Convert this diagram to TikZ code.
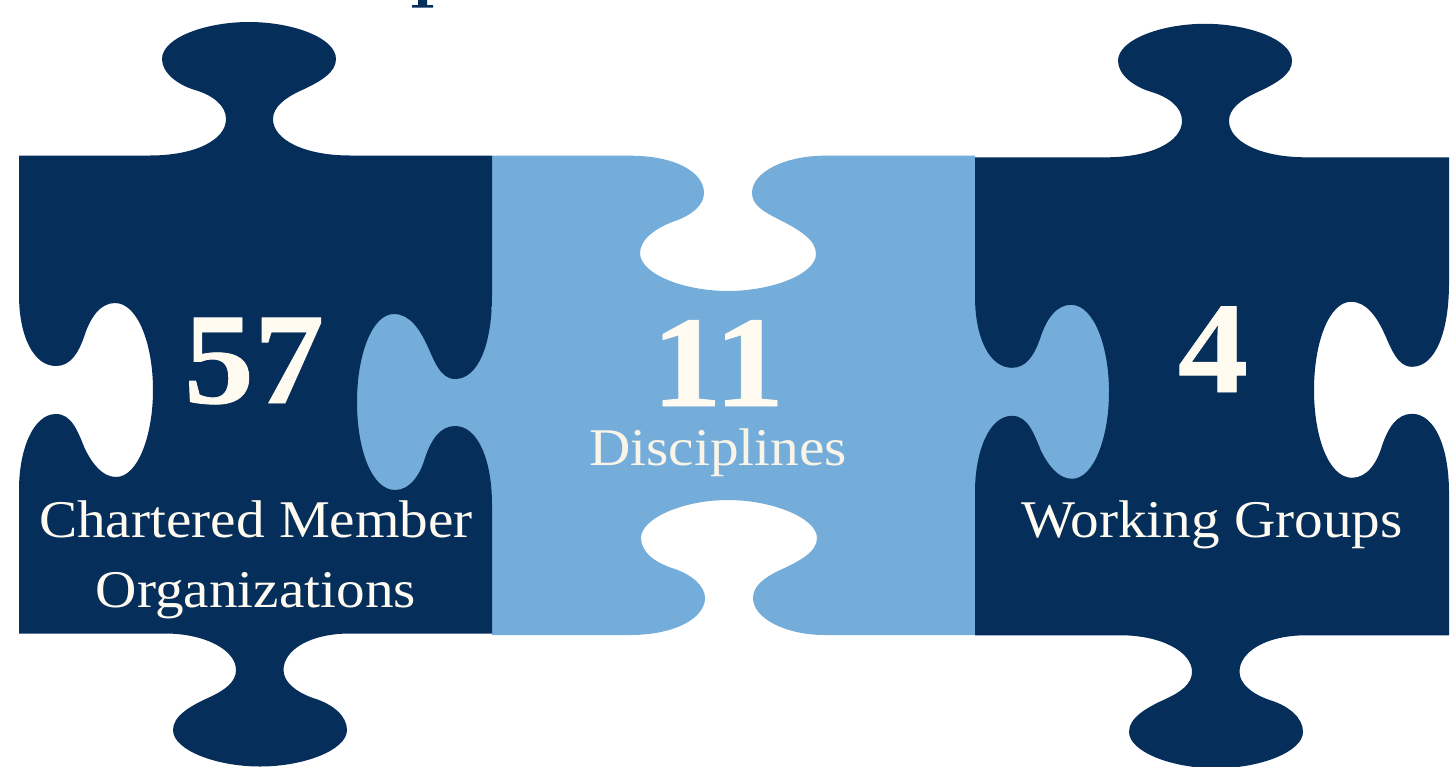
\documentclass[tikz,border=0pt]{standalone}
\usepackage{fontspec}
\setmainfont{Liberation Serif}
\newfontfamily\capfont[FakeStretch=1.08]{Liberation Serif}
\newfontfamily\numfont[FakeStretch=1.08,FakeBold=0.6]{Liberation Serif Bold}
\definecolor{navy}{RGB}{5,46,91}
\definecolor{sky}{RGB}{116,173,218}
\definecolor{cream}{RGB}{255,251,240}
\definecolor{creamdim}{RGB}{248,244,232}
\tikzset{
  bignum/.style={text=cream,font=\fontsize{130}{130}\numfont,anchor=base,inner sep=0pt},
  caption/.style={text=cream,font=\fontsize{53}{53}\capfont,anchor=base,inner sep=0pt},
  darkpiece/.style={fill=navy,draw=none},
  lightpiece/.style={fill=sky,draw=none}
}
% #1 x shift, #2 y shift, #3 right-edge x offset, #4 right-edge y offset
\newcommand{\darkjigsaw}[4]{%
\begin{scope}[shift={(#1,#2)}]
\path[darkpiece] (19,155.5) -- (150,155.5)
 .. controls (195,155.5) and (226,140) .. (226,119)
 .. controls (226,105) and (212,95) .. (195,90)
 .. controls (178,85) and (162,73) .. (162,59)
 .. controls (162,38) and (205,22) .. (249,22)
 .. controls (293,22) and (336,38) .. (336,59)
 .. controls (336,72) and (322,81) .. (300,91)
 .. controls (285,98) and (273,107) .. (273,119)
 .. controls (273,140) and (305,155.5) .. (350,155.5)
 -- ({492+#3},155.5) -- ({492+#3},{295+#4})
 .. controls ({492+#3},{345+#4}) and ({478+#3},{379+#4}) .. ({455+#3},{379+#4})
 .. controls ({440+#3},{379+#4}) and ({434+#3},{360+#4}) .. ({427+#3},{345+#4})
 .. controls ({420+#3},{330+#4}) and ({410+#3},{314+#4}) .. ({394+#3},{314+#4})
 .. controls ({372+#3},{314+#4}) and ({357+#3},{355+#4}) .. ({357+#3},{402+#4})
 .. controls ({357+#3},{450+#4}) and ({372+#3},{490+#4}) .. ({395+#3},{490+#4})
 .. controls ({410+#3},{490+#4}) and ({420+#3},{475+#4}) .. ({425+#3},{458+#4})
 .. controls ({431+#3},{440+#4}) and ({440+#3},{426+#4}) .. ({455+#3},{426+#4})
 .. controls ({478+#3},{426+#4}) and ({492+#3},{460+#4}) .. ({492+#3},{505+#4})
 -- ({492+#3},633.5) -- (350,633.5)
 .. controls (310,633.5) and (283.5,650) .. (283.5,670)
 .. controls (283.5,682) and (296,692) .. (313,698)
 .. controls (333,704) and (347,716) .. (347,730)
 .. controls (347,750) and (304,766.5) .. (260,766.5)
 .. controls (216,766.5) and (173,750) .. (173,730)
 .. controls (173,716) and (190,706) .. (210,697)
 .. controls (225,690) and (236,682) .. (236,670)
 .. controls (236,650) and (205,633.5) .. (165,633.5)
 -- (19,633.5) -- (19,490)
 .. controls (19,450) and (33,414) .. (56,414)
 .. controls (72,414) and (78,432) .. (85,449)
 .. controls (92,463) and (102,477) .. (116,477)
 .. controls (138,477) and (153,435) .. (153,390)
 .. controls (153,345) and (138,303) .. (115,303)
 .. controls (100,303) and (90,318) .. (84,337)
 .. controls (78,354) and (70,366) .. (56,366)
 .. controls (33,366) and (19,335) .. (19,295)
 -- cycle;
\end{scope}}
\begin{document}
\begin{tikzpicture}[x=1pt,y=-1pt]
\path[use as bounding box,fill=white] (0,0) rectangle (1450,766);
% clipped descender of the title above the picture
\path[fill=navy] (418,0) -- (427,0) -- (427,5) -- (433,5) -- (433,7.5) -- (412,7.5) -- (412,5) -- (418,5) -- cycle;
% middle piece, its side tabs run under the dark pieces
\path[lightpiece] (492,155.7) -- (630,155.7)
 .. controls (675,155.7) and (704,172) .. (704,193)
 .. controls (704,205) and (692,215) .. (675,221)
 .. controls (655,228) and (640,240) .. (640,253)
 .. controls (640,274) and (684,291) .. (728,291)
 .. controls (772,291) and (816,274) .. (816,254)
 .. controls (816,240) and (800,230) .. (778,219)
 .. controls (764,212) and (752,205) .. (752,193)
 .. controls (752,172) and (785,155.7) .. (825,155.7)
 -- (975,155.7) -- (975,300) -- (1120,300) -- (1120,485) -- (975,485)
 -- (975,635) -- (825,635)
 .. controls (785,635) and (753,618) .. (753,598)
 .. controls (753,586) and (764,578) .. (778,571)
 .. controls (800,561) and (817,552) .. (817,538)
 .. controls (817,518) and (772,500) .. (728,500)
 .. controls (684,500) and (641,518) .. (641,538)
 .. controls (641,552) and (655,563) .. (675,569)
 .. controls (692,575) and (705,586) .. (705,598)
 .. controls (705,618) and (675,635) .. (630,635)
 -- (492,635) -- (492,495) -- (345,495) -- (345,310) -- (492,310) -- cycle;
\darkjigsaw{0}{0}{0}{0}
\darkjigsaw{956}{1.8}{1}{-14}
\node[bignum] (n57) at (254,403) {57};
\node[bignum] (n11) at (718,406) {11};
\node[bignum] (n4) at (1213,392) {4};
\node[caption] (chartered) at (256,537) {Chartered Member};
\node[caption] (orgs) at (256,607) {Organizations};
\node[caption,text=creamdim] (disc) at (718,465) {Disciplines};
\node[caption] (groups) at (1212,537) {Working Groups};
\end{tikzpicture}
\end{document}
